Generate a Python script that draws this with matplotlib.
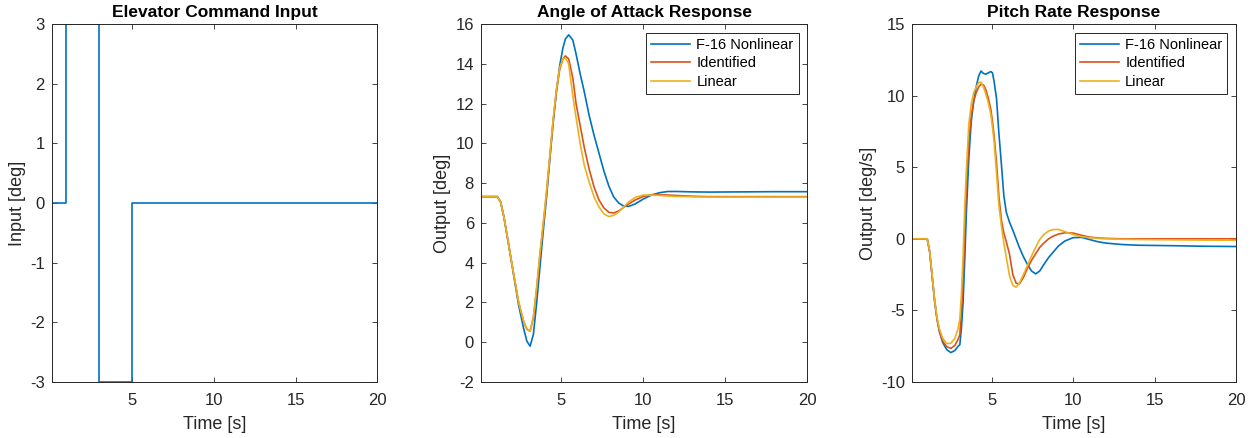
import matplotlib
matplotlib.use("Agg")
import matplotlib.pyplot as plt

plt.rcParams['font.family'] = ['Liberation Sans', 'DejaVu Sans']
plt.rcParams['axes.unicode_minus'] = False

# ---------------- data ----------------
input_t = [0.1, 1.0, 1.0, 3.0, 3.0, 5.0, 5.0, 20.0]
input_deg = [0, 0, 3, 3, -3, -3, 0, 0]

aoa_t = [0.1, 1.1, 1.3, 1.5, 1.8, 2.1, 2.4, 2.7, 2.9, 3.1, 3.3, 3.5, 3.7, 3.9,
         4.1, 4.3, 4.5, 4.7, 4.9, 5.1, 5.25, 5.45, 5.7, 5.9, 6.15, 6.4, 6.7,
         7.0, 7.3, 7.6, 7.9, 8.2, 8.5, 8.8, 9.1, 9.5, 10.0, 10.5, 11.0, 11.5,
         12.0, 13.0, 14.0, 16.0, 18.0, 20.0]
aoa_nonlinear = [7.32, 7.32, 7.05, 6.3, 4.85, 3.35, 1.85, 0.7, 0.05, -0.2, 0.4,
                 2.0, 3.8, 5.6, 7.3, 9.2, 11.0, 12.6, 13.9, 14.8, 15.25, 15.46,
                 15.2, 14.5, 13.5, 12.6, 11.4, 10.4, 9.5, 8.6, 7.85, 7.3, 7.0,
                 6.85, 6.83, 6.95, 7.2, 7.4, 7.52, 7.58, 7.58, 7.56, 7.55, 7.56,
                 7.57, 7.57]
aoa_identified = [7.32, 7.32, 7.05, 6.3, 4.85, 3.4, 2.0, 1.05, 0.65, 0.55, 1.25,
                  2.7, 4.4, 5.9, 7.5, 9.3, 11.1, 12.6, 13.7, 14.25, 14.4, 14.25,
                  13.3, 12.0, 10.9, 9.8, 8.7, 7.8, 7.15, 6.75, 6.53, 6.5, 6.6,
                  6.78, 6.95, 7.15, 7.33, 7.42, 7.42, 7.4, 7.38, 7.34, 7.32,
                  7.32, 7.32, 7.32]
aoa_linear = [7.32, 7.32, 7.05, 6.3, 4.85, 3.4, 2.0, 1.05, 0.65, 0.55, 1.3,
              2.8, 4.5, 6.0, 7.6, 9.4, 11.2, 12.7, 13.8, 14.25, 14.3, 14.0,
              12.4, 11.3, 10.0, 8.9, 8.05, 7.3, 6.8, 6.45, 6.32, 6.38, 6.55,
              6.8, 7.05, 7.28, 7.4, 7.4, 7.38, 7.35, 7.33, 7.31, 7.3, 7.3,
              7.3, 7.3]

q_t = [0.1, 1.05, 1.2, 1.35, 1.5, 1.65, 1.8, 2.0, 2.25, 2.5, 2.75, 2.95, 3.05,
       3.15, 3.25, 3.35, 3.45, 3.6, 3.75, 3.9, 4.05, 4.2, 4.35, 4.5, 4.65, 4.8,
       4.95, 5.05, 5.15, 5.3, 5.45, 5.6, 5.75, 5.9, 6.1, 6.3, 6.5, 6.7, 6.95,
       7.2, 7.45, 7.7, 7.95, 8.2, 8.5, 8.8, 9.1, 9.5, 10.0, 10.5, 11.0, 11.5,
       12.0, 13.0, 14.0, 16.0, 18.0, 20.0]
q_nonlinear = [0, 0, -0.9, -2.6, -4.3, -5.6, -6.5, -7.25, -7.75, -7.95, -7.8,
               -7.5, -7.4, -6.2, -4.4, -1.5, 1.8, 5.6, 8.2, 9.6, 10.6, 11.35,
               11.72, 11.55, 11.5, 11.6, 11.68, 11.6, 11.0, 9.8, 7.3, 5.2, 3.0,
               1.85, 1.15, 0.6, 0.0, -0.6, -1.25, -1.8, -2.25, -2.45, -2.25,
               -1.8, -1.3, -0.9, -0.5, -0.15, 0.08, 0.1, -0.05, -0.2, -0.3,
               -0.4, -0.45, -0.48, -0.52, -0.54]
q_identified = [0, 0, -0.9, -2.6, -4.3, -5.6, -6.45, -7.15, -7.55, -7.65, -7.45,
                -7.0, -6.7, -5.0, -2.9, 0.6, 3.6, 6.8, 8.6, 9.6, 10.2, 10.6,
                10.8, 10.75, 10.4, 9.8, 9.05, 8.2, 7.2, 5.3, 2.9, 1.3, 0.4,
                -0.2, -1.1, -2.5, -3.1, -3.15, -2.7, -2.05, -1.5, -1.05, -0.6,
                -0.3, 0.0, 0.2, 0.33, 0.42, 0.4, 0.25, 0.12, 0.06, 0.03, 0.0,
                0.0, 0.0, 0.0, 0.0]
q_linear = [0, 0, -0.85, -2.5, -4.2, -5.5, -6.3, -6.95, -7.32, -7.3, -6.95,
            -6.25, -5.6, -3.8, -1.2, 2.2, 4.8, 8.0, 9.4, 10.2, 10.6, 10.9,
            10.95, 10.6, 10.1, 9.5, 8.7, 7.8, 6.8, 4.6, 2.3, 0.9, -0.3, -1.3,
            -2.6, -3.25, -3.38, -3.1, -2.5, -1.85, -1.2, -0.6, -0.05, 0.3,
            0.55, 0.65, 0.65, 0.5, 0.3, 0.15, 0.08, 0.03, 0.0, -0.03, -0.05,
            -0.07, -0.09, -0.1]

series_names = ['F-16 Nonlinear', 'Identified', 'Linear']
colors = ['#0072BD', '#D95319', '#EDB120']
x_ticks = [5, 10, 15, 20]

# ---------------- figure ----------------
fig = plt.figure(figsize=(12.6, 4.38), dpi=100)
ax_pos = [[0.041, 0.128, 0.2585, 0.817],
          [0.3817, 0.128, 0.259, 0.817],
          [0.7236, 0.128, 0.2575, 0.817]]
axes = [fig.add_axes(p) for p in ax_pos]

lw = 1.2
tick_col = '#262626'


def style(ax, title, ylabel, ylim, yticks):
    ax.set_xlim(0.1, 20)
    ax.set_ylim(*ylim)
    ax.set_xticks(x_ticks)
    ax.set_yticks(yticks)
    ax.tick_params(direction='in', top=True, right=True, length=3.5,
                   width=0.6, colors=tick_col, labelsize=12, pad=5)
    ax.tick_params(axis='x', pad=8)
    for s in ax.spines.values():
        s.set_color(tick_col)
        s.set_linewidth(0.7)
    ax.set_title(title, fontsize=12.5, fontweight='bold', color='black', pad=5)
    ax.set_xlabel('Time [s]', fontsize=13, color=tick_col, labelpad=6)
    ax.set_ylabel(ylabel, fontsize=13, color=tick_col, labelpad=3)


ax = axes[0]
ax.plot(input_t, input_deg, color=colors[0], lw=lw)
style(ax, 'Elevator Command Input', 'Input [deg]', (-3, 3), list(range(-3, 4)))

ax = axes[1]
for y, c, n in zip([aoa_nonlinear, aoa_identified, aoa_linear], colors, series_names):
    ax.plot(aoa_t, y, color=c, lw=lw, label=n)
style(ax, 'Angle of Attack Response', 'Output [deg]', (-2, 16), list(range(-2, 17, 2)))

ax = axes[2]
for y, c, n in zip([q_nonlinear, q_identified, q_linear], colors, series_names):
    ax.plot(q_t, y, color=c, lw=lw, label=n)
style(ax, 'Pitch Rate Response', 'Output [deg/s]', (-10, 15), list(range(-10, 16, 5)))

for ax in axes[1:]:
    leg = ax.legend(loc='upper right', fontsize=10.5, frameon=True, fancybox=False,
                    edgecolor=tick_col, framealpha=1, borderpad=0.35,
                    handlelength=2.7, handletextpad=0.4, labelspacing=0.3,
                    borderaxespad=0.6)
    leg.get_frame().set_linewidth(0.7)

fig.savefig('out.png', dpi=100)
